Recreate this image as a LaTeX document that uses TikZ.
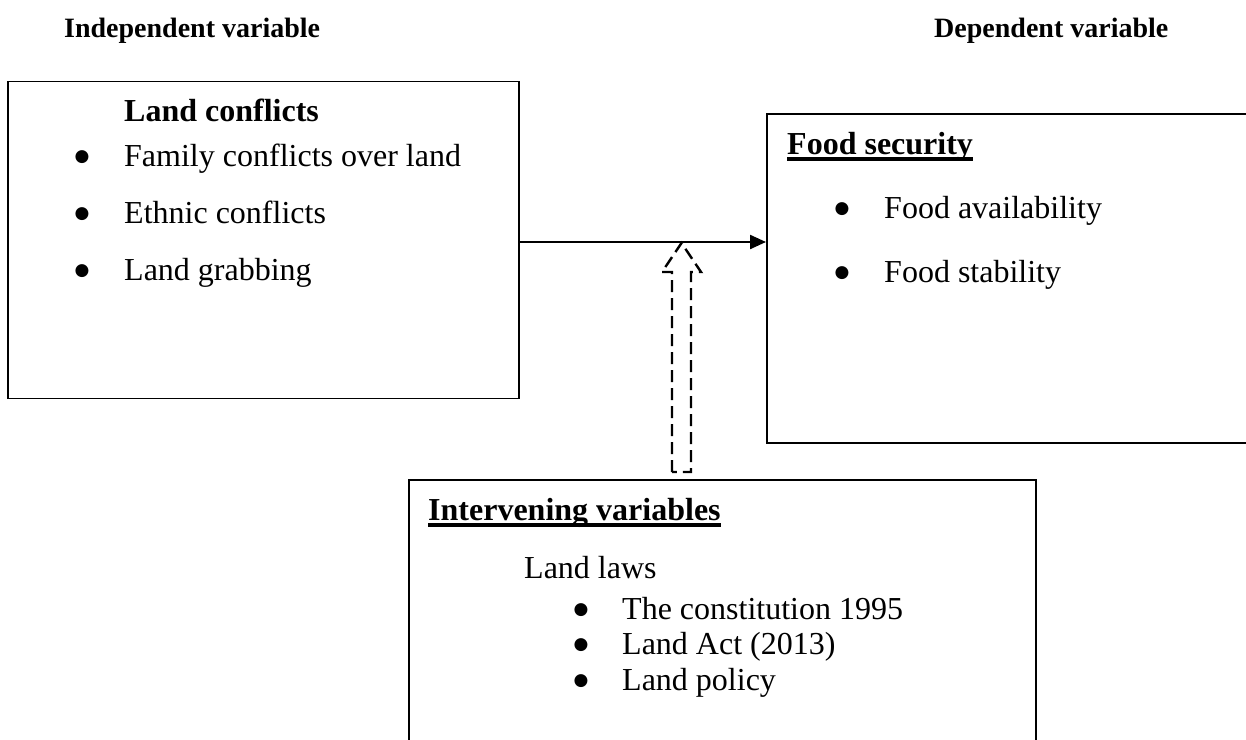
\documentclass[tikz,border=0pt]{standalone}
\usepackage{fontspec}
\setmainfont{Liberation Serif}
\newfontfamily\bulletfont{DejaVu Sans}
\usetikzlibrary{arrows.meta}
\begin{document}
\begin{tikzpicture}[x=1pt,y=-1pt,
  txt/.style={anchor=base west, inner sep=0pt, font=\fontsize{32}{38}\selectfont},
  bold/.style={anchor=base west, inner sep=0pt, font=\fontsize{32}{38}\selectfont\bfseries},
  head/.style={anchor=base west, inner sep=0pt, font=\fontsize{28}{34}\selectfont\bfseries},
  bul/.style={anchor=center, inner sep=0pt, font=\bulletfont\fontsize{17}{18}\selectfont},
  box/.style={draw, line width=1.8pt, anchor=north west, inner sep=0pt},
  ul/.style={line width=3.4pt},
  mainarrow/.style={line width=2.3pt, -{Triangle[length=16pt,width=14pt]}},
  hollow/.style={line width=2.4pt, dash pattern=on 12pt off 6pt, line join=miter},
]
\useasboundingbox (0,0) rectangle (1246,739);
\clip (0,0) rectangle (1246,739);

% headers
\node[head] (hind) at (64,37) {Independent variable};
\node[head] (hdep) at (934,37) {Dependent variable};

% boxes
\node[box, minimum width=511pt, minimum height=317pt] (box1) at (7,80.5) {};
\node[box, minimum width=600pt, minimum height=329pt] (box2) at (766,113) {};
\node[box, minimum width=627pt, minimum height=400pt] (box3) at (408,479) {};

% box 1 content
\node[bold] (lc) at (124,121) {Land conflicts};
\node[bul] (b11) at (82,157) {●};
\node[bul] (b12) at (82,214) {●};
\node[bul] (b13) at (82,271) {●};
\node[txt] (t11) at (124,166) {Family conflicts over land};
\node[txt] (t12) at (124,223) {Ethnic conflicts};
\node[txt] (t13) at (124,280) {Land grabbing};

% box 2 content
\node[bold] (fs) at (787,154) {Food security};
\draw[ul] ([yshift=-5pt]fs.base west) -- ([yshift=-5pt]fs.base east);
\node[bul] (b21) at (842,209) {●};
\node[bul] (b22) at (842,273) {●};
\node[txt] (t21) at (884,218) {Food availability};
\node[txt] (t22) at (884,282) {Food stability};

% box 3 content
\node[bold] (iv) at (428,520) {Intervening variables};
\draw[ul] ([yshift=-5pt]iv.base west) -- ([yshift=-5pt]iv.base east);
\node[txt] (ll) at (524,578) {Land laws};
\node[bul] (b31) at (581,610) {●};
\node[bul] (b32) at (581,645) {●};
\node[bul] (b33) at (581,681) {●};
\node[txt] (t31) at (622,619) {The constitution 1995};
\node[txt] (t32) at (622,654) {Land Act (2013)};
\node[txt] (t33) at (622,690) {Land policy};

% main arrow
\coordinate (alevel) at (640,242);
\draw[mainarrow] (box1.east |- alevel) -- (box2.west |- alevel);

% hollow dashed arrow
\draw[hollow] (672,472) -- (672,272) -- (662,272) -- (681.5,243) -- (701,272) -- (691,272) -- (691,472) -- cycle;
\end{tikzpicture}
\end{document}
